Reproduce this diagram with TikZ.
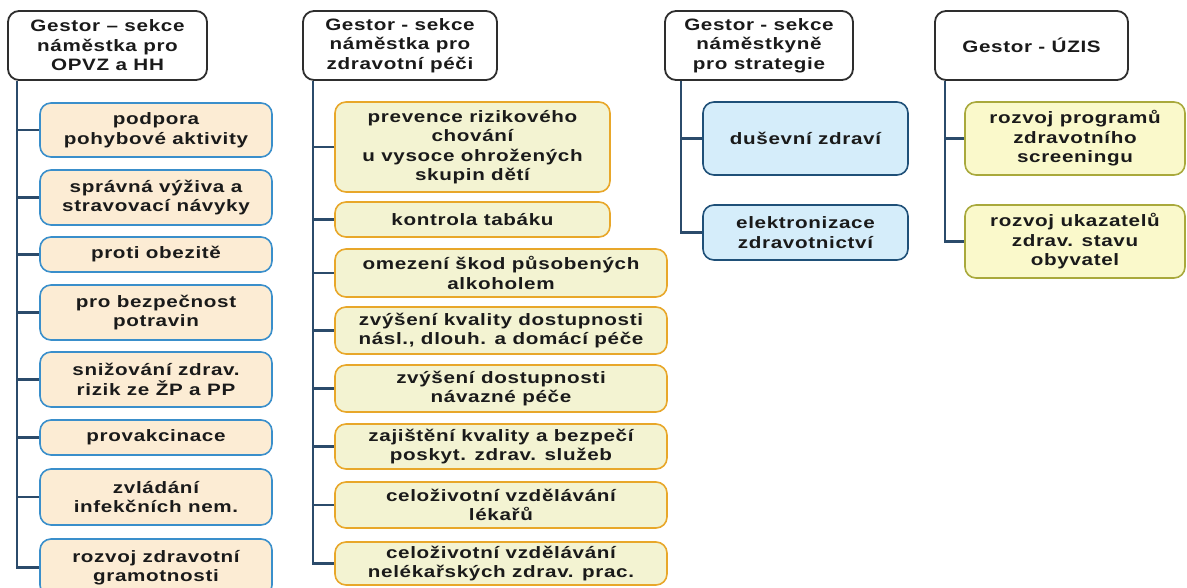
\documentclass[tikz,border=0pt]{standalone}
\usepackage{fontspec}
\setmainfont{Liberation Sans}[FakeStretch=1.25, LetterSpace=4]
\definecolor{hdrc}{HTML}{2E2E2E}
\definecolor{connc}{HTML}{2B4B6B}
\definecolor{fillA}{HTML}{FCECD4}
\definecolor{drawA}{HTML}{3A8FCB}
\definecolor{fillB}{HTML}{F3F3D2}
\definecolor{drawB}{HTML}{E8A72A}
\definecolor{fillC}{HTML}{D5EDFA}
\definecolor{drawC}{HTML}{1F5078}
\definecolor{fillD}{HTML}{FAF9CB}
\definecolor{drawD}{HTML}{A9A93C}
\definecolor{txtc}{HTML}{1A1A1A}
\tikzset{
  basebox/.style={rounded corners=11pt, align=center, inner sep=0pt, text=txtc,
    font=\fontsize{16.5}{19.5}\selectfont\bfseries},
  hdr/.style={basebox, draw=hdrc, fill=white, line width=1.8pt},
  boxA/.style={basebox, draw=drawA, fill=fillA, line width=1.6pt},
  boxB/.style={basebox, draw=drawB, fill=fillB, line width=1.6pt},
  boxC/.style={basebox, draw=drawC, fill=fillC, line width=1.6pt},
  boxD/.style={basebox, draw=drawD, fill=fillD, line width=1.6pt},
  conn/.style={draw=connc, line width=2.4pt},
}
\newcommand\mybox[7]{\node[#1, minimum width={#5-#3}, minimum height={#6-#4}] (#2) at ({(#3+#5)/2},{(#4+#6)/2}) {#7};}
\begin{document}
\begin{tikzpicture}[x=1pt,y=-1pt]
\useasboundingbox (0,0) rectangle (1187,588);
\begin{scope}
\clip (0,0) rectangle (1187,588);
% headers
\mybox{hdr}{h1}{8}{11}{207}{80}{Gestor – sekce\\náměstka pro\\OPVZ a HH}
\mybox{hdr}{h2}{303}{11}{497}{80}{Gestor - sekce\\náměstka pro\\zdravotní péči}
\mybox{hdr}{h3}{665}{11}{853}{80}{Gestor - sekce\\náměstkyně\\pro strategie}
\mybox{hdr}{h4}{935}{11}{1128}{80}{Gestor - ÚZIS}
% column 1
\mybox{boxA}{a1}{40}{103}{272}{157}{podpora\\pohybové aktivity}
\mybox{boxA}{a2}{40}{170}{272}{225}{správná výživa a\\stravovací návyky}
\mybox{boxA}{a3}{40}{237}{272}{272}{proti obezitě}
\mybox{boxA}{a4}{40}{285}{272}{340}{pro bezpečnost\\potravin}
\mybox{boxA}{a5}{40}{352}{272}{407}{snižování zdrav.\\rizik ze ŽP a PP}
\mybox{boxA}{a6}{40}{420}{272}{455}{provakcinace}
\mybox{boxA}{a7}{40}{469}{272}{525}{zvládání\\infekčních nem.}
\mybox{boxA}{a8}{40}{539}{272}{596}{rozvoj zdravotní\\gramotnosti}
% column 2
\mybox{boxB}{b1}{335}{102}{610}{192}{prevence rizikového\\chování\\u vysoce ohrožených\\skupin dětí}
\mybox{boxB}{b2}{335}{202}{610}{237}{kontrola tabáku}
\mybox{boxB}{b3}{335}{249}{667}{297}{omezení škod působených\\alkoholem}
\mybox{boxB}{b4}{335}{307}{667}{354}{zvýšení kvality dostupnosti\\násl., dlouh. a domácí péče}
\mybox{boxB}{b5}{335}{365}{667}{412}{zvýšení dostupnosti\\návazné péče}
\mybox{boxB}{b6}{335}{424}{667}{469}{zajištění kvality a bezpečí\\poskyt. zdrav. služeb}
\mybox{boxB}{b7}{335}{482}{667}{528}{celoživotní vzdělávání\\lékařů}
\mybox{boxB}{b8}{335}{542}{667}{585}{celoživotní vzdělávání\\nelékařských zdrav. prac.}
% column 3
\mybox{boxC}{c1}{703}{102}{908}{175}{duševní zdraví}
\mybox{boxC}{c2}{703}{205}{908}{260}{elektronizace\\zdravotnictví}
% column 4
\mybox{boxD}{d1}{965}{102}{1185}{175}{rozvoj programů\\zdravotního\\screeningu}
\mybox{boxD}{d2}{965}{205}{1185}{278}{rozvoj ukazatelů\\zdrav. stavu\\obyvatel}
\end{scope}
% connectors
\foreach \c in {a1,a2,a3,a4,a5,a6,a7,a8}
  \draw[conn] ([xshift=10pt]h1.south west) |- (\c.west);
\foreach \c in {b1,b2,b3,b4,b5,b6,b7,b8}
  \draw[conn] ([xshift=11pt]h2.south west) |- (\c.west);
\foreach \c in {c1,c2}
  \draw[conn] ([xshift=17pt]h3.south west) |- (\c.west);
\foreach \c in {d1,d2}
  \draw[conn] ([xshift=11pt]h4.south west) |- (\c.west);
\end{tikzpicture}
\end{document}
